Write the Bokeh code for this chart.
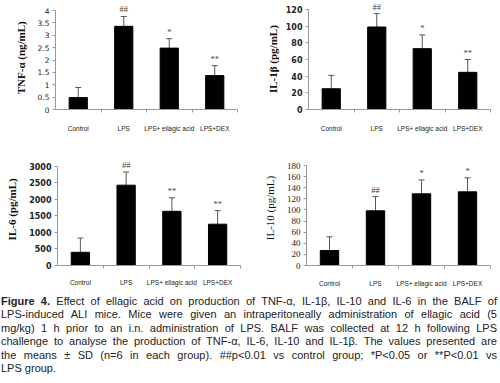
from bokeh.plotting import figure
from bokeh.models import (Range1d, FixedTicker, Whisker, TeeHead, ColumnDataSource,
                          CustomJSTickFormatter, Div, LabelSet)
from bokeh.layouts import column, row
from bokeh.embed import file_html
from bokeh.resources import INLINE

groups = ["Control", "LPS", "LPS+ ellagic acid", "LPS+DEX"]

tnf_mean = [0.48, 3.36, 2.48, 1.37]
tnf_sd = [0.41, 0.40, 0.38, 0.40]
tnf_sig = ["", "##", "*", "**"]
tnf_ticks = [0, 0.5, 1, 1.5, 2, 2.5, 3, 3.5, 4]

il1b_mean = [24.9, 99.0, 73.0, 44.6]
il1b_sd = [16.1, 16.0, 16.5, 15.4]
il1b_sig = ["", "##", "*", "**"]
il1b_ticks = [0, 20, 40, 60, 80, 100, 120]

il6_mean = [400, 2430, 1640, 1250]
il6_sd = [430, 400, 410, 410]
il6_sig = ["", "##", "**", "**"]
il6_ticks = [0, 500, 1000, 1500, 2000, 2500, 3000]

il10_mean = [27.0, 98.4, 129.0, 132.6]
il10_sd = [24.6, 25.6, 25.0, 25.2]
il10_sig = ["", "##", "*", "*"]
il10_ticks = [0, 20, 40, 60, 80, 100, 120, 140, 160, 180]

NB = "\u00a0"


def panel(means, sds, sigs, ticks, title, width, height, borders,
          tick_font, tick_size, tick_style, title_style, title_standoff, label_standoff):
    n = len(groups)
    xs = [i + 0.5 for i in range(n)]
    tops = [m + s for m, s in zip(means, sds)]
    src = ColumnDataSource(dict(x=xs, mean=means, top=tops, sig=sigs))
    left, right, top_px, bottom = borders
    frame_h = height - bottom
    y_end = ticks[-1] * frame_h / (frame_h - top_px)
    p = figure(width=width, height=height, output_backend="svg", toolbar_location=None,
               x_range=Range1d(0, n), y_range=Range1d(ticks[0], y_end),
               min_border_left=left, min_border_right=right,
               min_border_top=0, min_border_bottom=bottom)
    p.outline_line_color = None
    p.grid.visible = False
    p.background_fill_color = "white"
    p.border_fill_color = "white"

    p.vbar(x="x", top="mean", width=0.4, source=src, color="black")
    w = Whisker(base="x", lower="mean", upper="top", source=src, dimension="height",
                line_color="#555555", line_width=1, lower_head=None,
                upper_head=TeeHead(size=6, line_color="#555555", line_width=1))
    p.add_layout(w)
    labels = LabelSet(x="x", y="top", text="sig", source=src, text_align="center",
                      text_baseline="bottom", y_offset=2, text_font_size="8.5px",
                      text_color="#444444", text_font="DejaVu Sans")
    p.add_layout(labels)

    # x axis
    xa = p.xaxis[0]
    xa.ticker = FixedTicker(ticks=xs, minor_ticks=list(range(1, n + 1)))
    xa.major_label_overrides = {x: g for x, g in zip(xs, groups)}
    xa.major_tick_out = 0
    xa.major_tick_in = 0
    xa.minor_tick_out = 3
    xa.minor_tick_in = 0
    xa.minor_tick_line_color = "#999999"
    xa.axis_line_color = "#999999"
    xa.major_label_standoff = label_standoff
    xa.major_label_text_font = "Liberation Sans"
    xa.major_label_text_font_size = "6.5px"
    xa.major_label_text_color = "#222222"

    # y axis
    ya = p.yaxis[0]
    ya.ticker = FixedTicker(ticks=ticks)
    ya.bounds = (ticks[0], ticks[-1])
    ya.formatter = CustomJSTickFormatter(code="return String(tick)")
    ya.major_tick_out = 3
    ya.major_tick_in = 0
    ya.minor_tick_out = 0
    ya.minor_tick_in = 0
    ya.axis_line_color = "#999999"
    ya.major_tick_line_color = "#999999"
    ya.major_label_text_font = tick_font
    ya.major_label_text_font_size = tick_size
    ya.major_label_text_font_style = tick_style
    ya.major_label_text_color = "#222222"
    ya.major_label_standoff = 3
    ya.axis_label = title
    ya.axis_label_text_font = "Liberation Serif"
    ya.axis_label_text_font_size = "11px"
    ya.axis_label_text_font_style = title_style
    ya.axis_label_text_color = "#111111"
    ya.axis_label_standoff = title_standoff
    return p


p1 = panel(tnf_mean, tnf_sd, tnf_sig, tnf_ticks, "TNF-α (ng/mL)" + NB * 2, 250, 150,
           (55, 13, 10, 41), "DejaVu Sans", "7.5px", "normal", "bold", 8, 12)
p2 = panel(il1b_mean, il1b_sd, il1b_sig, il1b_ticks, "IL-1β (pg/mL)" + NB * 3, 250, 150,
           (58, 10, 9, 41), "DejaVu Sans", "8px", "bold", "bold", 4, 12)
p3 = panel(il6_mean, il6_sd, il6_sig, il6_ticks, "IL-6 (pg/mL)" + NB, 250, 142,
           (57, 10, 16, 26), "DejaVu Sans", "8px", "bold", "bold", 8, 10)
p4 = panel(il10_mean, il10_sd, il10_sig, il10_ticks, "IL-10 (pg/mL)", 250, 142,
           (56, 10, 15, 27), "Liberation Serif", "9px", "normal", "normal", 8, 11)

caption_lines = [
    "<b>Figure 4.</b> Effect of ellagic acid on production of TNF-α, IL-1β, IL-10 and IL-6 in the BALF of",
    "LPS-induced ALI mice. Mice were given an intraperitoneally administration of ellagic acid (5",
    "mg/kg) 1 h prior to an i.n. administration of LPS. BALF was collected at 12 h following LPS",
    "challenge to analyse the production of TNF-α, IL-6, IL-10 and IL-1β. The values presented are",
    "the means ± SD (n=6 in each group). ##p&lt;0.01 vs control group; *P&lt;0.05 or **P&lt;0.01 vs",
    "LPS group.",
]
html_lines = []
for i, line in enumerate(caption_lines):
    if i == len(caption_lines) - 1:
        html_lines.append(f'<div style="text-align:left;white-space:nowrap;">{line}</div>')
    else:
        html_lines.append(f'<div style="text-align:justify;text-align-last:justify;">{line}</div>')
caption_html = (
    '<div style="margin-left:1px;margin-top:3px;width:496px;font-family:\'Liberation Sans\',sans-serif;'
    'font-size:11px;line-height:13.4px;color:#222;">' + "".join(html_lines) + "</div>"
)
cap = Div(text=caption_html, width=500, height=91, margin=0)

layout = column(row(p1, p2, spacing=0), row(p3, p4, spacing=0), cap, spacing=0)

with open("out.html", "w") as f:
    f.write(file_html(layout, INLINE))
